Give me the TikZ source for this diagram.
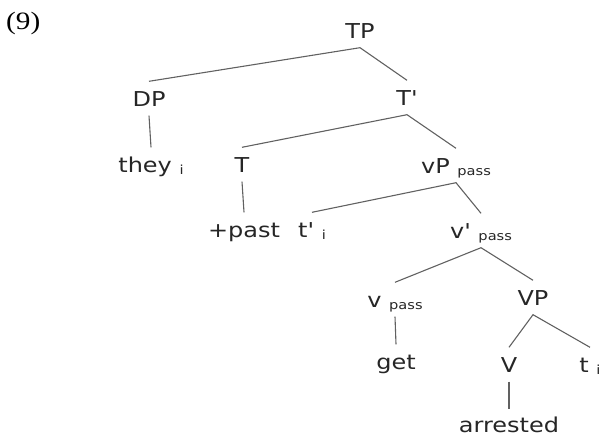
\documentclass[tikz,border=0pt]{standalone}
\usepackage{fontspec}
\newfontfamily\treefont[FakeStretch=1.17]{DejaVu Sans}
\newfontfamily\numfont[FakeStretch=1.17]{Liberation Serif}
\newcommand\lbl{\fontsize{20.5}{22}\treefont}
\newcommand\sbs[1]{ \raisebox{-2.5pt}{\fontsize{12.5}{14}\treefont #1}}
\begin{document}
\begin{tikzpicture}[x=1pt,y=-1pt,
  cat/.style={anchor=base,text=black!85,font=\lbl,text height=15pt,text depth=0pt,
              inner xsep=0pt,inner ysep=9.5pt},
  branch/.style={draw=black!62,line width=1.1pt}]
\useasboundingbox (0,0) rectangle (604,436);
\node[anchor=base west,font=\fontsize{25}{28}\numfont,inner sep=0pt] (ex) at (6,30) {(9)};
% nodes
\node[cat] (tp) at (360,38) {TP};
\node[cat] (dp) at (149,106) {DP};
\node[cat] (they) at (151,172) {they\sbs{i}};
\node[cat] (tbar) at (407,105) {T'};
\node[cat] (t) at (242,172) {T};
\node[cat] (past) at (244,237) {+past};
\node[cat] (vp) at (456,173) {vP\sbs{pass}};
\node[cat] (ttr) at (312,237) {t'\sbs{i}};
\node[cat] (vbar) at (481,238) {v'\sbs{pass}};
\node[cat] (vhead) at (395,307) {v\sbs{pass}};
\node[cat] (VP) at (533,305) {VP};
\node[cat] (get) at (396,369) {get};
\node[cat] (V) at (509,372) {V};
\node[cat] (trace) at (590,372) {t\sbs{i}};
\node[cat,inner ysep=8pt] (arr) at (509,432.5) {arrested};
% branches
\draw[branch] (dp.north) -- (tp.south) -- (tbar.north);
\draw[branch] (dp.south) -- (they.north);
\draw[branch] (t.north) -- (tbar.south) -- (vp.north);
\draw[branch] (t.south) -- (past.north);
\draw[branch] (ttr.north) -- (vp.south) -- (vbar.north);
\draw[branch] (vhead.north) -- (vbar.south) -- (VP.north);
\draw[branch] (vhead.south) -- (get.north);
\draw[branch] (V.north) -- (VP.south) -- (trace.north);
\draw[branch] (V.south) -- (arr.north);
\end{tikzpicture}
\end{document}
